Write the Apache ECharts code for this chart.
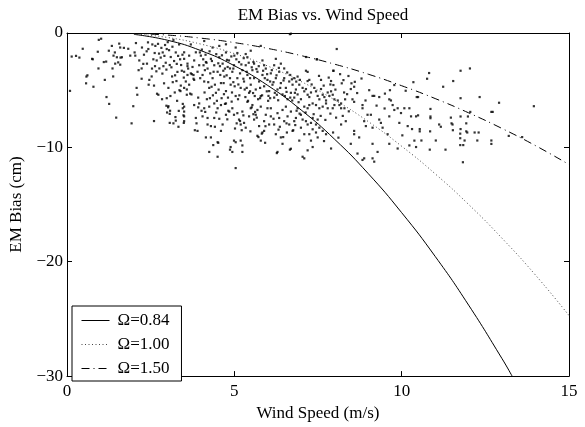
<!DOCTYPE html>
<html>
<head>
<meta charset="utf-8">
<script src="https://cdn.jsdelivr.net/npm/echarts@6/dist/echarts.min.js"></script>
<style>
  html, body { margin: 0; padding: 0; background: #fff; }
  #chart { width: 585px; height: 427px; }
</style>
</head>
<body>
<div id="chart"></div>
<script>
// model curves (wind speed -> bias in cm)
const curveX = [2, 3, 4, 5, 6, 7, 8, 9, 10, 11, 12, 13, 14, 15]
const solidX = [2, 3, 4, 5, 6, 7, 8, 9, 10, 11, 12, 13, 13.3]
const omega084 = [-0.12, -0.63, -1.54, -2.86, -4.59, -6.74, -9.30, -12.29, -15.71, -19.53, -23.79, -28.48, -30]
const omega100 = [-0.08, -0.39, -0.97, -1.80, -2.89, -4.25, -5.86, -7.74, -9.90, -12.31, -14.99, -17.95, -21.17, -24.7]
const omega150 = [-0.04, -0.18, -0.45, -0.84, -1.35, -1.98, -2.73, -3.60, -4.61, -5.73, -6.98, -8.35, -9.85, -11.5]
const legendNames = ['Ω=0.84', 'Ω=1.00', 'Ω=1.50']

const xTicks = { min: 0, max: 15, interval: 5 }
const yTicks = { min: -30, max: 0, interval: 10 }

// measured bias points, x < 3.5 m/s
const obsLow = [
  [0.09,-5.06],[0.14,-2.06],[0.27,-2.0],[0.37,-2.15],[0.47,-1.38],[0.61,-3.7],[0.57,-4.4],[0.79,-4.7],
  [0.77,-2.3],[0.92,-1.64],[0.95,-0.6],[1.02,-0.5],[0.94,-3.1],[1.17,-2.5],[1.13,-4.1],[1.18,-5.6],
  [1.26,-6.2],[1.38,-3.8],[1.36,-3.1],[1.47,-7.4],[1.43,-1.7],[1.56,-0.93],[1.53,-2.57],[1.6,-2.15],
  [1.7,-1.3],[1.83,-1.38],[1.93,-7.9],[1.98,-6.4],[2.08,-4.8],[2.06,-0.88],[2.02,-1.7],[2.1,-5.4],
  [2.16,-2.4],[2.23,-3.1],[2.28,-2.7],[2.23,-4.0],[2.3,-1.9],[2.38,-1.6],[2.43,-1.4],[2.42,-0.82],
  [2.46,-4.1],[2.53,-3.8],[2.6,-7.7],[2.63,-2.9],[2.68,-2.4],[2.76,-3.1],[2.73,-5.4],[2.86,-1.7],
  [2.91,-2.0],[2.98,-1.4],[2.98,-5.7],[3.03,-6.4],[3.08,-6.8],[3.03,-4.8],[3.16,-4.3],[3.23,-3.7],
  [3.18,-7.9],[3.33,-8.2],[3.28,-2.7],[3.38,-2.3],[3.43,-3.3],[3.46,-6.2],[3.48,-7.2],
  [0.75,-2.26],[1.34,-1.13],[1.25,-1.55],[1.59,-1.27],[1.39,-1.98],[1.49,-2.12],[1.64,-2.12],
  [1.89,-1.98],[2.04,-1.98],[1.44,-2.68],[1.59,-2.77],[1.1,-2.54],[0.58,-3.81],[2.24,-1.27],
  [2.64,-1.13],[2.44,-4.52],[2.69,-5.31],[2.84,-5.79],[3.09,-5.51],[3.29,-5.93],[3.39,-5.08],
  [2.14,-3.25],[2.39,-2.68],[2.54,-3.11],[2.97,-6.36],[3.02,-6.5],[2.99,-6.95],[3.07,-7.07],
  [3.24,-7.35],[3.25,-7.66],[3.07,-7.86],[3.34,-6.81],[3.46,-6.58],[3.49,-7.86],
  [2.55,-1.0],[2.62,-1.75],[2.72,-0.95],[2.8,-2.15],[2.85,-3.55],[2.9,-4.4],[2.95,-2.6],[2.6,-4.6],
  [2.67,-3.35],[2.93,-1.05],[2.82,-1.3],[2.97,-3.2],[3.05,-1.5],[3.1,-2.1],[3.12,-3.0],[3.15,-1.2],
  [3.2,-2.45],[3.25,-1.7],[3.3,-3.4],[3.35,-1.0],[3.4,-4.6],[3.45,-1.9],[3.22,-5.2],[3.14,-3.8],
  [3.36,-5.0],[3.07,-2.8],[3.41,-2.8],[3.27,-4.2],[3.49,-3.9],[3.01,-0.8],[2.75,-1.8],[2.58,-2.3],
  [3.18,-0.6],[3.32,-2.0],[2.88,-2.9]
]

// 3.5 .. 7 m/s
const obsMid = [
  [3.5,-4.8],[3.58,-5.4],[3.68,-5.3],[3.6,-2.9],[3.73,-3.6],[3.78,-4.0],[3.82,-8.5],[3.87,-7.9],
  [3.92,-6.5],[4.02,-6.8],[3.97,-1.7],[4.07,-2.3],[4.17,-2.6],[4.22,-4.3],[4.32,-4.7],[4.27,-5.7],
  [4.37,-9.8],[4.52,-9.6],[4.42,-8.2],[4.55,-7.5],[4.57,-2.9],[4.67,-3.3],[4.77,-3.7],[4.87,-3.1],
  [4.62,-5.7],[4.72,-6.2],[4.82,-6.8],[4.92,-6.0],[4.87,-10.2],[5.07,-7.9],[5.17,-7.7],[5.22,-8.5],
  [4.97,-4.3],[5.12,-4.5],[5.27,-4.0],[5.37,-4.8],[5.47,-5.1],[5.52,-6.5],[5.57,-7.1],[5.67,-7.4],
  [5.77,-5.7],[5.72,-9.1],[5.82,-8.8],[5.92,-9.6],[5.97,-5.1],[6.07,-5.7],[6.17,-4.3],[6.27,-10.5],
  [6.36,-8.2],[6.46,-9.1],[6.56,-7.9],[6.66,-10.2],[6.76,-8.5],[6.86,-6.8],
  [3.7,-1.0],[4.1,-0.7],[4.35,-1.27],[4.55,-1.13],[4.75,-1.7],[5.0,-1.98],[5.09,-1.75],[5.34,-1.84],
  [5.39,-2.12],[5.59,-2.68],[5.84,-2.4],[5.89,-2.82],[6.19,-2.82],[6.49,-3.1],[6.67,-3.67],[6.79,-3.95],
  [6.89,-3.81],[5.79,-1.13],[6.69,-0.06],[5.04,-1.27],[5.49,-1.55],[6.24,-2.26],[6.39,-2.68],[4.75,-0.99],
  [3.5,-1.69],[3.5,-2.26],[3.6,-2.68],[3.65,-1.98],[3.75,-2.97],[3.8,-2.4],[3.5,-3.39],[3.6,-3.67],
  [3.7,-3.53],[3.55,-4.24],[3.65,-4.52],[3.8,-4.1],[3.9,-3.39],[3.95,-2.82],[4.0,-1.98],[4.05,-3.67],
  [4.1,-4.24],[4.15,-2.54],[4.2,-3.11],[4.25,-4.8],[4.3,-2.26],[4.35,-3.95],[4.4,-2.82],[4.45,-5.23],
  [4.5,-3.39],[4.55,-2.12],[4.6,-4.38],[4.65,-2.68],[4.7,-3.81],[4.75,-5.08],[4.8,-2.97],[4.84,-2.4],
  [4.89,-4.52],[4.94,-3.39],[4.99,-2.82],[5.04,-5.51],[5.09,-3.95],[5.14,-2.54],[5.19,-4.8],[5.24,-3.25],
  [5.29,-4.24],[5.34,-2.82],[5.39,-3.67],[5.44,-5.23],[5.49,-4.52],[5.54,-3.25],[5.59,-3.95],[5.64,-4.94],
  [5.69,-3.39],[5.74,-4.24],[5.79,-5.51],[5.84,-3.67],[5.89,-4.66],[5.94,-3.11],[5.99,-4.1],[6.04,-5.08],
  [6.09,-3.53],[6.14,-4.52],[6.19,-5.65],[6.24,-3.95],[6.29,-4.94],[6.34,-3.39],[6.39,-4.38],[6.44,-5.37],
  [6.49,-3.95],[6.54,-4.8],[6.59,-5.79],[6.64,-4.24],[6.69,-5.23],[6.74,-4.52],[6.79,-5.65],[6.84,-4.94],
  [6.89,-5.37],[6.94,-4.52],[6.99,-5.79],
  [3.62,-3.11],[3.85,-1.69],[3.98,-3.95],[4.12,-3.25],[4.28,-3.53],[4.42,-4.52],[4.58,-3.67],[4.72,-3.11],
  [4.87,-3.95],[5.01,-4.66],[5.17,-3.53],[5.31,-4.94],[5.47,-3.95],[5.61,-5.51],[5.77,-4.8],[5.91,-3.95],
  [6.07,-4.24],[6.21,-5.23],[6.37,-4.8],[6.51,-5.51],[6.67,-5.65],[6.81,-5.23],[5.57,-2.54],[5.37,-3.39],
  [4.97,-3.11],[4.68,-4.38],[4.38,-3.39],[4.08,-2.82],[3.78,-3.67],[3.58,-4.94],[3.72,-5.37],[3.92,-5.65],
  [4.18,-5.79],[4.48,-5.93],[4.81,-5.65],[5.11,-5.79],[5.41,-5.93],[5.71,-5.79],[6.01,-5.93],[6.31,-5.88],
  [3.5,-6.44],[3.5,-6.87],[3.5,-7.29],[3.5,-7.71],[3.8,-6.3],[3.95,-6.16],[4.1,-6.58],[4.25,-6.44],
  [4.4,-6.16],[4.5,-6.58],[4.6,-6.3],[4.75,-6.16],[3.85,-7.43],[4.05,-7.29],[4.2,-7.43],[4.4,-7.43],
  [4.2,-8.0],[4.3,-8.14],[4.65,-8.0],[4.6,-8.56],[3.9,-8.56],[4.15,-9.13],[4.3,-9.13],[4.5,-9.55],
  [4.25,-10.4],[4.5,-10.82],[4.89,-9.97],[4.94,-10.4],[4.99,-9.41],[5.04,-9.55],[5.19,-9.41],[5.24,-9.83],
  [5.24,-10.4],[5.04,-11.81],[4.94,-6.58],[4.99,-7.15],[5.09,-7.01],[5.14,-7.57],[5.19,-8.0],[5.29,-7.86],
  [5.34,-8.28],[5.44,-7.29],[5.49,-6.58],[5.54,-6.3],[5.59,-7.57],[5.64,-7.15],[5.69,-6.73],[5.74,-8.14],
  [5.79,-6.44],[5.84,-8.7],[5.89,-7.71],[5.94,-7.15],[5.99,-6.58],[6.04,-8.0],[6.09,-7.29],[6.19,-8.0],
  [6.24,-8.85],[6.29,-7.01],[6.34,-7.43],[6.39,-9.13],[6.44,-6.73],[6.49,-7.71],[6.54,-6.44],[6.59,-7.29],
  [6.64,-8.0],[6.69,-6.87],[6.74,-8.56],[6.79,-7.71],[6.84,-7.43],[6.89,-6.58],[6.94,-9.41],[6.99,-8.28],
  [5.89,-8.56],[5.79,-9.41],[5.69,-8.99],[6.09,-6.58],[5.39,-6.02],[5.24,-6.87],[4.75,-7.15],[4.85,-6.87],
  [6.69,-10.12],[6.29,-10.4],[6.44,-9.69],
  [4.03,-1.45],[4.14,-1.9],[4.26,-1.6],[4.33,-2.45],[4.46,-1.85],[4.52,-2.65],[4.63,-1.95],[4.78,-2.35],
  [4.91,-2.05],[5.06,-2.3],[5.21,-2.75],[5.28,-2.2],[5.43,-2.6],[5.52,-3.0],[5.66,-3.15],[5.73,-2.9],
  [5.86,-3.3],[5.98,-3.6],[6.12,-3.25],[6.26,-3.7],[6.33,-3.05],[6.47,-4.15],[6.58,-3.45],[6.72,-4.05],
  [6.85,-4.25],[6.96,-4.1],[4.11,-5.2],[4.36,-5.45],[4.53,-4.95],[4.69,-5.35],[4.93,-5.2],[5.15,-5.45],
  [5.33,-5.6],[5.56,-5.25],[5.83,-5.45],[6.02,-5.5],[6.27,-5.4],[6.56,-5.15],[6.73,-5.9],[6.92,-6.05],
  [4.13,-6.9],[4.46,-6.95],[4.79,-7.55],[5.02,-8.35],[5.27,-7.2],[5.48,-8.6],[5.62,-6.9],[5.93,-8.15],
  [6.17,-7.5],[6.32,-8.45],[6.57,-8.7],[6.82,-8.05],[6.95,-7.05]
]

// 7 .. 10.5 m/s
const obsHigh = [
  [8.06,-1.4],[7.14,-2.1],[7.47,-2.3],[7.14,-3.3],[7.19,-3.4],[7.96,-3.3],[7.19,-4.2],[7.24,-4.1],
  [7.59,-4.1],[7.89,-4.2],[7.87,-4.5],[7.04,-4.8],[7.09,-5.1],[7.14,-4.9],[7.19,-5.4],[7.24,-5.6],
  [7.29,-5.2],[7.39,-4.8],[7.44,-5.1],[7.49,-5.5],[7.54,-5.8],[7.59,-4.9],[7.64,-5.4],[7.69,-5.6],
  [7.74,-5.9],[7.79,-5.2],[7.84,-5.5],[7.89,-5.1],[7.94,-5.4],[7.99,-5.8],[8.09,-5.9],[8.28,-5.2],
  [8.31,-5.8],[8.48,-4.9],[8.58,-4.7],[8.53,-5.8],[9.03,-5.0],[9.13,-5.5],[9.18,-5.5],[9.63,-5.8],
  [9.68,-5.9],[9.33,-5.6],
  [8.41,-3.76],[8.5,-4.4],[8.8,-3.98],[8.6,-4.27],[8.21,-4.4],[8.26,-4.12],[7.96,-4.55],[9.5,-5.3],
  [9.65,-5.0],[10.45,-5.6],[7.46,-2.3],[7.96,-3.3],[6.66,-0.1],
  [7.09,-6.44],[7.19,-6.58],[7.24,-6.3],[7.34,-6.16],[7.44,-6.3],[7.54,-6.58],[7.64,-6.44],[7.74,-6.16],
  [7.79,-6.58],[7.94,-6.58],[7.99,-6.3],[8.14,-6.3],[8.19,-6.58],[8.29,-6.58],[8.19,-6.16],[8.83,-6.3],
  [8.83,-6.58],[8.58,-6.02],[8.98,-7.15],[9.08,-7.15],[9.33,-7.57],[9.38,-7.86],[9.43,-8.28],[9.13,-8.28],
  [9.73,-6.3],[9.78,-6.73],[9.63,-7.29],[9.88,-6.58],[9.98,-7.0],[10.08,-6.58],[10.23,-6.58],[10.28,-7.29],
  [10.43,-7.29],[9.93,-7.86],[10.18,-8.14],[6.99,-7.15],[7.04,-7.57],[7.14,-7.71],[7.19,-8.0],[7.29,-7.86],
  [7.34,-7.43],[7.49,-7.57],[7.44,-8.0],[7.54,-8.28],[7.34,-8.42],[7.09,-8.85],[7.24,-8.85],[7.44,-8.7],
  [7.64,-8.56],[7.74,-8.85],[7.49,-9.13],[8.19,-8.0],[8.33,-7.71],[8.58,-8.56],[8.58,-8.85],[8.73,-9.13],
  [8.88,-7.71],[8.93,-8.14],[8.48,-9.69],[7.89,-10.1],[7.29,-9.41],[7.34,-9.97],[7.19,-10.26],[7.09,-10.96],
  [7.04,-10.82],[8.68,-10.54],[8.83,-11.1],[8.88,-10.96],[9.13,-10.96],[9.18,-11.25],[9.28,-10.4],[9.63,-9.69],
  [9.13,-9.69],[9.88,-10.1],[10.23,-9.83],[10.38,-9.41],[10.43,-9.97],
  [7.13,-6.95],[7.37,-7.1],[7.58,-7.25],[7.72,-7.6],[7.87,-7.05],[8.04,-7.4],[8.24,-7.25],[8.42,-6.85],
  [7.68,-9.45],[7.95,-8.7],[8.11,-9.15],[7.31,-4.5],[7.53,-3.75],[7.67,-4.6],[7.82,-3.9],[8.02,-4.95],
  [8.16,-3.6],[8.37,-5.35],[8.67,-5.25],[8.92,-5.9],[9.25,-6.35],[9.49,-6.6],[9.58,-8.85],[10.02,-8.95],
  [10.31,-8.4],[9.78,-4.55],[10.12,-5.05],[10.35,-4.3]
]

// beyond 10.5 m/s
const obsFar = [
  [10.82,-3.5],[10.76,-4.0],[11.24,-4.7],[11.54,-4.2],[11.76,-3.3],[12.04,-3.1],[10.49,-5.6],[11.76,-5.7],
  [12.33,-5.6],[10.86,-6.64],[10.49,-7.2],[10.86,-7.3],[10.86,-7.45],[11.47,-7.4],[12.05,-6.9],[12.68,-6.9],
  [12.72,-6.9],[12.91,-6.1],[13.95,-6.4],[11.76,-7.3],[11.98,-7.3],[11.49,-7.9],[11.52,-8.0],[11.12,-8.0],
  [11.17,-8.2],[11.93,-7.9],[10.54,-8.4],[10.54,-8.6],[10.85,-8.6],[11.53,-8.5],[11.76,-8.4],[11.75,-8.8],
  [11.93,-8.6],[11.96,-8.7],[12.18,-8.7],[12.3,-8.7],[11.75,-9.2],[10.59,-9.4],[11.02,-9.4],[11.88,-9.4],
  [12.26,-9.4],[12.68,-9.4],[12.68,-9.7],[13.2,-9.0],[13.6,-9.1],[11.75,-9.8],[11.84,-9.8],[10.84,-10.2],
  [11.31,-10.2],[11.83,-11.3]
]

const serif = 'Liberation Serif'
const minus = v => (v < 0 ? '\u2212' + Math.abs(v) : String(v))
const pair = (xs, ys) => xs.map((x, i) => [x, ys[i]])

const chart = echarts.init(document.getElementById('chart'))

const axisBase = {
  type: 'value',
  axisLine: { show: true, onZero: false, lineStyle: { color: '#000', width: 1 } },
  axisTick: { show: true, inside: true, length: 5, lineStyle: { color: '#000' } },
  splitLine: { show: false }
}

const lineSeries = (name, data, dash, color) => ({
  name: name,
  type: 'line',
  data: data,
  smooth: true,
  symbol: 'none',
  z: 5,
  lineStyle: { color: color, width: 1, type: dash },
  itemStyle: { color: color }
})

chart.setOption({
  animation: false,
  backgroundColor: '#fff',
  textStyle: { fontFamily: serif, color: '#000' },
  title: {
    text: 'EM Bias vs. Wind Speed',
    left: 318,
    top: 2,
    textAlign: 'center',
    textStyle: { fontFamily: serif, fontSize: 17, fontWeight: 'normal', color: '#000' }
  },
  grid: { left: 67, right: 16, top: 33, bottom: 41 },
  legend: {
    data: legendNames,
    orient: 'vertical',
    left: 72,
    top: 306,
    padding: [6, 12, 4, 9],
    itemWidth: 28,
    itemHeight: 14,
    itemGap: 7,
    backgroundColor: '#fff',
    borderColor: '#000',
    borderWidth: 1,
    borderRadius: 0,
    itemStyle: { opacity: 0 },
    lineStyle: { width: 1 },
    textStyle: { fontFamily: serif, fontSize: 17, color: '#000', padding: [0, 0, 0, 3] }
  },
  xAxis: [
    Object.assign({}, axisBase, {
      min: xTicks.min, max: xTicks.max, interval: xTicks.interval,
      position: 'bottom',
      name: 'Wind Speed (m/s)',
      nameLocation: 'middle',
      nameGap: 23,
      nameTextStyle: { fontFamily: serif, fontSize: 17, color: '#000' },
      axisLabel: { fontFamily: serif, fontSize: 17, color: '#000', margin: 7 }
    }),
    Object.assign({}, axisBase, {
      min: xTicks.min, max: xTicks.max, interval: xTicks.interval,
      position: 'top',
      axisLabel: { show: false }
    })
  ],
  yAxis: [
    Object.assign({}, axisBase, {
      min: yTicks.min, max: yTicks.max, interval: yTicks.interval,
      position: 'left',
      name: 'EM Bias (cm)',
      nameLocation: 'middle',
      nameGap: 40,
      nameTextStyle: { fontFamily: serif, fontSize: 17, color: '#000' },
      axisLabel: { fontFamily: serif, fontSize: 17, color: '#000', margin: 4, formatter: minus }
    }),
    Object.assign({}, axisBase, {
      min: yTicks.min, max: yTicks.max, interval: yTicks.interval,
      position: 'right',
      axisLabel: { show: false }
    })
  ],
  series: [
    {
      name: 'obs',
      type: 'scatter',
      data: obsLow.concat(obsMid, obsHigh, obsFar),
      symbol: 'rect',
      symbolSize: 2.2,
      itemStyle: { color: '#000' },
      z: 2
    },
    lineSeries(legendNames[0], pair(solidX, omega084), 'solid', '#000'),
    lineSeries(legendNames[1], pair(curveX, omega100), [1, 2.5], '#444'),
    lineSeries(legendNames[2], pair(curveX, omega150), [8, 4, 1, 4], '#000')
  ]
})
</script>
</body>
</html>
